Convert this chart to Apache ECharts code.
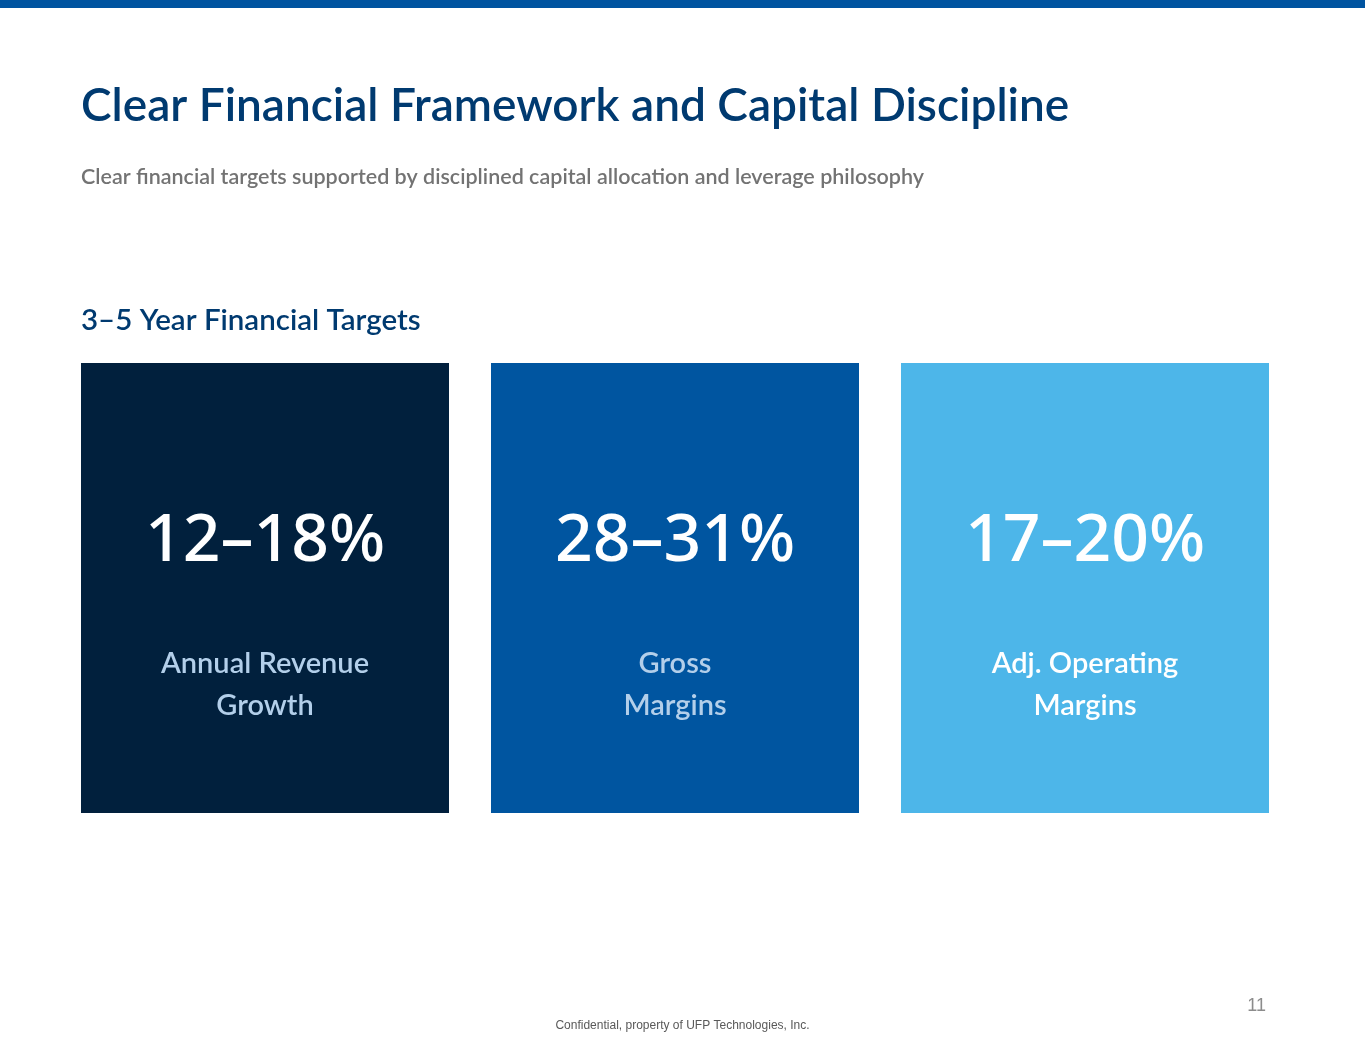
<!DOCTYPE html>
<html lang="en">
<head>
  <meta charset="UTF-8">
  <title>Clear Financial Framework and Capital Discipline</title>
  <style>
    html, body { margin: 0; padding: 0; background: #fff; }
    #chart { width: 1365px; height: 1055px; }
  </style>
</head>
<body>
  <div id="chart"></div>
  <script src="https://cdn.jsdelivr.net/npm/echarts@6/dist/echarts.min.js"></script>
  <script>
    // slide data
    const categories = ['Annual Revenue Growth', 'Gross Margins', 'Adj. Operating Margins']
    const targets = ['12–18%', '28–31%', '17–20%']
    const labelLines = [['Annual Revenue', 'Growth'], ['Gross', 'Margins'], ['Adj. Operating', 'Margins']]
    const boxValues = [1, 1, 1]
    const boxColors = ['#01203d', '#0055a0', '#4db6e9']
    const labelColors = ['#b3cfea', '#b3cfea', '#ffffff']

    const font = 'Lato, "Noto Sans", sans-serif'
    const numFont = '"Noto Sans", Lato, sans-serif'
    let myChart = echarts.init(document.getElementById('chart'))

    const option = {
      animation: false,
      title: [
        {
          text: 'Clear Financial Framework and Capital Discipline',
          left: 76, top: 78,
          textStyle: { color: '#003a70', fontSize: 46, fontWeight: 600, fontFamily: font }
        },
        {
          text: 'Clear financial targets supported by disciplined capital allocation and leverage philosophy',
          left: 76, top: 161,
          textStyle: { color: '#737373', fontSize: 21.5, fontWeight: 600, fontFamily: font }
        },
        {
          text: '3–5 Year Financial Targets',
          left: 76, top: 300,
          textStyle: { color: '#003a70', fontSize: 29.5, fontWeight: 600, fontFamily: font }
        }
      ],
      graphic: [
        { type: 'rect', left: 0, top: 0, shape: { width: 1365, height: 8 }, style: { fill: '#0054a0' } },
        {
          type: 'text', left: 'center', top: 1020,
          style: { text: 'Confidential, property of UFP Technologies, Inc.', fill: '#595959',
            font: '12px "Liberation Sans Narrow", "Liberation Sans", sans-serif' }
        },
        {
          type: 'text', right: 99, top: 997,
          style: { text: '11', fill: '#8c8c8c', font: '18px "Liberation Sans Narrow", "Liberation Sans", sans-serif' }
        }
      ],
      grid: { left: 60, right: 75, top: 363, bottom: 242 },
      xAxis: { type: 'category', data: categories, show: false },
      yAxis: { type: 'value', min: 0, max: 1, show: false },
      series: [
        {
          type: 'bar',
          barWidth: 368,
          data: boxValues.map((v, i) => ({
            value: v,
            itemStyle: { color: boxColors[i] },
            label: {
              rich: {
                d: { color: labelColors[i], fontSize: 29, fontWeight: 600, fontFamily: font, lineHeight: 42 }
              }
            }
          })),
          label: {
            show: true,
            position: 'inside',
            offset: [0, -4],
            formatter: p => '{v|' + targets[p.dataIndex] + '}\n' +
              labelLines[p.dataIndex].map(t => '{d|' + t + '}').join('\n'),
            rich: {
              v: { color: '#ffffff', fontSize: 66, fontWeight: 500, fontFamily: numFont, lineHeight: 202 }
            }
          }
        }
      ]
    }
    myChart.setOption(option)
  </script>
</body>
</html>
